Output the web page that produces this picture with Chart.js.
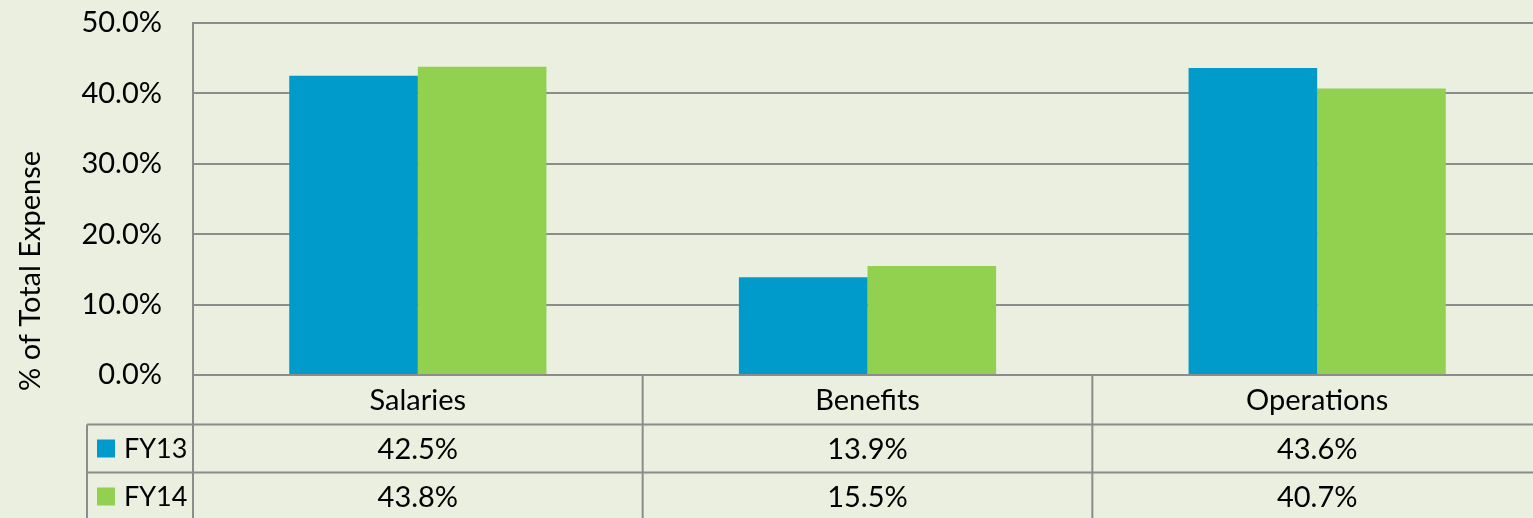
<!DOCTYPE html>
<html>
<head>
<meta charset="utf-8">
<script src="https://cdn.jsdelivr.net/npm/chart.js@4"></script>
<style>
  html, body { margin: 0; padding: 0; background: #EBEFDF; overflow: hidden; }
  #wrap { position: relative; width: 1542px; height: 518px; }
</style>
</head>
<body>
<div id="wrap"><canvas id="c"></canvas></div>
<script>
const categories = ["Salaries", "Benefits", "Operations"];
const seriesNames = ["FY13", "FY14"];
const fy13 = [42.5, 13.9, 43.6];
const fy14 = [43.8, 15.5, 40.7];
const seriesColors = ["#009BCB", "#92D050"];
const yAxisTitle = "% of Total Expense";
const yMin = 0, yMax = 50, yStep = 10;

const FONT = "Lato, 'Open Sans', sans-serif";
const GRID = "#8c8c8c";

const tablePlugin = {
  id: "tablePlugin",
  afterDraw(chart) {
    const ctx = chart.ctx;
    const ca = chart.chartArea;
    const xs = chart.scales.x;
    const H = chart.height;
    const rowCat = ca.bottom;
    const row1 = ca.bottom + 49.5;
    const row2 = row1 + 48;
    const tableLeft = 87;
    ctx.save();
    ctx.strokeStyle = GRID;
    ctx.lineWidth = 2;
    ctx.beginPath();
    ctx.moveTo(ca.left, ca.top); ctx.lineTo(ca.left, H);
    const n = categories.length;
    for (let i = 1; i < n; i++) {
      const bx = (xs.getPixelForValue(i - 1) + xs.getPixelForValue(i)) / 2;
      ctx.moveTo(bx, rowCat); ctx.lineTo(bx, H);
    }
    ctx.moveTo(ca.left, rowCat); ctx.lineTo(ca.right, rowCat);
    ctx.moveTo(tableLeft, row1); ctx.lineTo(ca.right, row1);
    ctx.moveTo(tableLeft, row2); ctx.lineTo(ca.right, row2);
    ctx.moveTo(tableLeft, row1); ctx.lineTo(tableLeft, H);
    ctx.stroke();

    ctx.fillStyle = "#000";
    ctx.font = "29px " + FONT;
    ctx.textAlign = "center";
    ctx.textBaseline = "middle";
    const rows = [fy13, fy14];
    const rowCenters = [(row1 + row2) / 2, row2 + 24];
    categories.forEach((c, i) => {
      const cx = xs.getPixelForValue(i);
      ctx.fillText(c, cx, (rowCat + row1) / 2 + 1);
      rows.forEach((r, j) => {
        ctx.fillText(r[i].toFixed(1) + "%", cx, rowCenters[j] + 1);
      });
    });
    ctx.textAlign = "left";
    ctx.font = "27px " + FONT;
    seriesNames.forEach((s, j) => {
      const cy = rowCenters[j];
      ctx.fillStyle = seriesColors[j];
      ctx.fillRect(97, cy - 9, 18, 18);
      ctx.fillStyle = "#000";
      ctx.fillText(s, 124, cy + 1);
    });
    ctx.font = "29px " + FONT;
    ctx.translate(31, 271);
    ctx.rotate(-Math.PI / 2);
    ctx.textAlign = "center";
    ctx.fillText(yAxisTitle, 0, 0);
    ctx.restore();
  }
};

new Chart(document.getElementById("c"), {
  type: "bar",
  data: {
    labels: categories,
    datasets: [
      { label: seriesNames[0], data: fy13, backgroundColor: seriesColors[0], borderWidth: 0 },
      { label: seriesNames[1], data: fy14, backgroundColor: seriesColors[1], borderWidth: 0 }
    ]
  },
  options: {
    responsive: true,
    maintainAspectRatio: false,
    animation: false,
    layout: { padding: { top: 23, bottom: 143, left: 0, right: 0 } },
    datasets: { bar: { barPercentage: 1.0, categoryPercentage: 0.572 } },
    plugins: { legend: { display: false }, tooltip: { enabled: false } },
    scales: {
      x: {
        ticks: { display: false },
        grid: { display: false, drawTicks: false },
        border: { display: false }
      },
      y: {
        min: yMin, max: yMax,
        ticks: {
          stepSize: yStep,
          padding: 31,
          color: "#000",
          font: { family: FONT, size: 29 },
          callback: v => v.toFixed(1) + "%"
        },
        grid: { color: GRID, lineWidth: 2, drawTicks: false },
        border: { display: true, color: GRID, width: 2 },
        afterFit(scale) { scale.width = 193; scale.paddingTop = 0; scale.paddingBottom = 0; }
      }
    }
  },
  plugins: [tablePlugin]
});
</script>
</body>
</html>
